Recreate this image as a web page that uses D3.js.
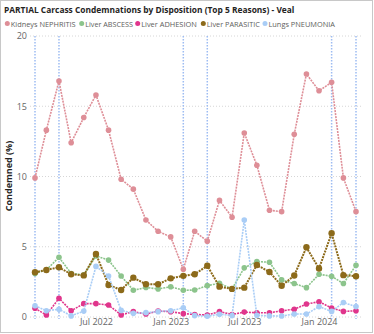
<!DOCTYPE html>
<html><head><meta charset="utf-8">
<script src="https://cdn.jsdelivr.net/npm/d3@7"></script>
<style>
html,body{margin:0;padding:0;background:#fff;}
svg{display:block;font-family:"Open Sans","Noto Sans",sans-serif;}
</style></head>
<body><svg id="c" width="374" height="334"></svg>
<script>
const months = ["2022-02","2022-03","2022-04","2022-05","2022-06","2022-07","2022-08","2022-09","2022-10","2022-11","2022-12","2023-01","2023-02","2023-03","2023-04","2023-05","2023-06","2023-07","2023-08","2023-09","2023-10","2023-11","2023-12","2024-01","2024-02","2024-03","2024-04"];
const seriesNames = ["Kidneys NEPHRITIS","Liver ABSCESS","Liver ADHESION","Liver PARASITIC","Lungs PNEUMONIA"];
const seriesColors = ["#de8e97","#8cc48c","#e0358c","#8c6a1a","#a9cdf6"];
const nephritis = [9.9,13.3,16.8,12.4,14.2,15.8,13.3,9.8,9.1,6.9,6.1,5.7,3.4,6.1,5.4,8.3,7.1,13.1,10.8,7.6,7.5,13.0,17.3,16.1,16.7,9.9,7.5];
const abscess   = [3.1,3.35,4.25,3.1,3.0,4.35,4.05,2.92,1.9,2.1,2.0,2.15,1.9,1.92,2.23,2.4,2.0,3.5,3.94,3.9,2.64,2.38,2.09,3.04,2.9,2.38,3.68];
const adhesion  = [0.62,0.14,1.33,0.44,0.95,0.95,0.85,0.15,0.38,0.21,0.43,0.38,0.24,0.18,0.14,0.38,0.18,0.35,0.3,0.3,0.44,0.55,0.92,1.09,0.64,0.4,0.44];
const parasitic = [3.18,3.35,3.54,3.04,2.96,4.49,2.28,1.92,2.8,2.33,2.33,2.75,2.93,3.04,3.65,2.16,2.0,2.09,3.7,3.2,2.22,2.95,4.96,3.45,5.96,2.98,2.9];
const pneumonia = [0.8,0.45,0.55,0.08,0.42,3.6,2.92,0.47,0.26,0.31,0.38,0.45,0.65,0.1,0.05,0.2,0.1,6.9,0.12,0.08,0.07,0.21,0.21,0.74,0.4,1.03,0.74];
const seriesValues = [nephritis,abscess,adhesion,parasitic,pneumonia];
const yTicks = [0,5,10,15,20];
const xTickMonths = ["2022-07","2023-01","2023-07","2024-01"];
const markerMonths = ["2022-02","2022-04","2023-02","2023-04","2024-02","2024-04"];
const titleText = "PARTIAL Carcass Condemnations by Disposition (Top 5 Reasons) - Veal";
const yLabel = "Condemned (%)";

const parse = d3.timeParse("%Y-%m");
const dates = months.map(parse);
const svg = d3.select("#c");

// frame
svg.append("rect").attr("x",0.5).attr("y",0.5).attr("width",372).attr("height",332)
  .attr("fill","none").attr("stroke","#c8c8c8");

const x = d3.scaleTime().domain(d3.extent(dates)).range([35,356]);
const y = d3.scaleLinear().domain([0,20]).range([317,36]);

// title
const t = svg.append("text").attr("x",4).attr("y",12.5).attr("font-weight","bold")
  .attr("font-size",10).attr("fill","#252423").text(titleText);
let w = t.node().getComputedTextLength();
t.attr("font-size", 10*291/w);

// legend
const legendX = [7.3,81.7,137.7,203.3,265];
const lg = svg.append("g");
seriesNames.forEach((n,i)=>{
  lg.append("circle").attr("cx",legendX[i]).attr("cy",23.5).attr("r",2.5).attr("fill",seriesColors[i]);
  lg.append("text").attr("x",legendX[i]+3.5).attr("y",26.8).attr("font-size",9).attr("fill","#605e5c").text(n);
});
// fit legend text widths
const targetEnds = [75.7,133,197,260,335];
lg.selectAll("text").each(function(d,i){
  const el=d3.select(this); const ww=this.getComputedTextLength();
  const tw=targetEnds[i]-(legendX[i]+3.5);
  el.attr("font-size", 9*tw/ww);
});

// gridlines
svg.append("g").selectAll("line").data(yTicks).join("line")
  .attr("x1",30).attr("x2",362).attr("y1",d=>y(d)).attr("y2",d=>y(d))
  .attr("stroke","#d6d6d6").attr("stroke-dasharray","1,2").attr("stroke-width",1);

// y axis
const yAxis = d3.axisLeft(y).tickValues(yTicks).tickSize(0).tickPadding(0);
const ya = svg.append("g").attr("transform","translate(27,0)").call(yAxis);
ya.select(".domain").remove();
ya.selectAll("text").attr("font-size",9).attr("fill","#666").attr("font-family","'Open Sans','Noto Sans',sans-serif");

// x axis
const xAxis = d3.axisBottom(x).tickValues(xTickMonths.map(parse)).tickFormat(d3.timeFormat("%b %Y")).tickSize(0).tickPadding(0);
const xa = svg.append("g").attr("transform","translate(0,319)").call(xAxis);
xa.select(".domain").remove();
xa.selectAll("text").attr("font-size",9).attr("fill","#666").attr("font-family","'Open Sans','Noto Sans',sans-serif");

// y label
svg.append("text").attr("transform","translate(12,176) rotate(-90)").attr("text-anchor","middle")
  .attr("font-size",9).attr("font-weight","bold").attr("fill","#252423").text(yLabel);

// vertical markers
svg.append("g").selectAll("line").data(markerMonths.map(parse)).join("line")
  .attr("x1",d=>x(d)).attr("x2",d=>x(d)).attr("y1",36).attr("y2",319)
  .attr("stroke","#9dbcf2").attr("stroke-width",1.5).attr("stroke-dasharray","1.5,1.5");

// series
const line = d3.line().x((d,i)=>x(dates[i])).y(d=>y(d));
seriesValues.forEach((vals,si)=>{
  const g = svg.append("g");
  g.append("path").datum(vals).attr("d",line).attr("fill","none")
    .attr("stroke",seriesColors[si]).attr("stroke-width",si===3?2:1.6).attr("stroke-dasharray","2,1");
  g.selectAll("circle").data(vals).join("circle")
    .attr("cx",(d,i)=>x(dates[i])).attr("cy",d=>y(d)).attr("r",si===3?3.2:2.8).attr("fill",seriesColors[si]);
});
</script></body></html>
